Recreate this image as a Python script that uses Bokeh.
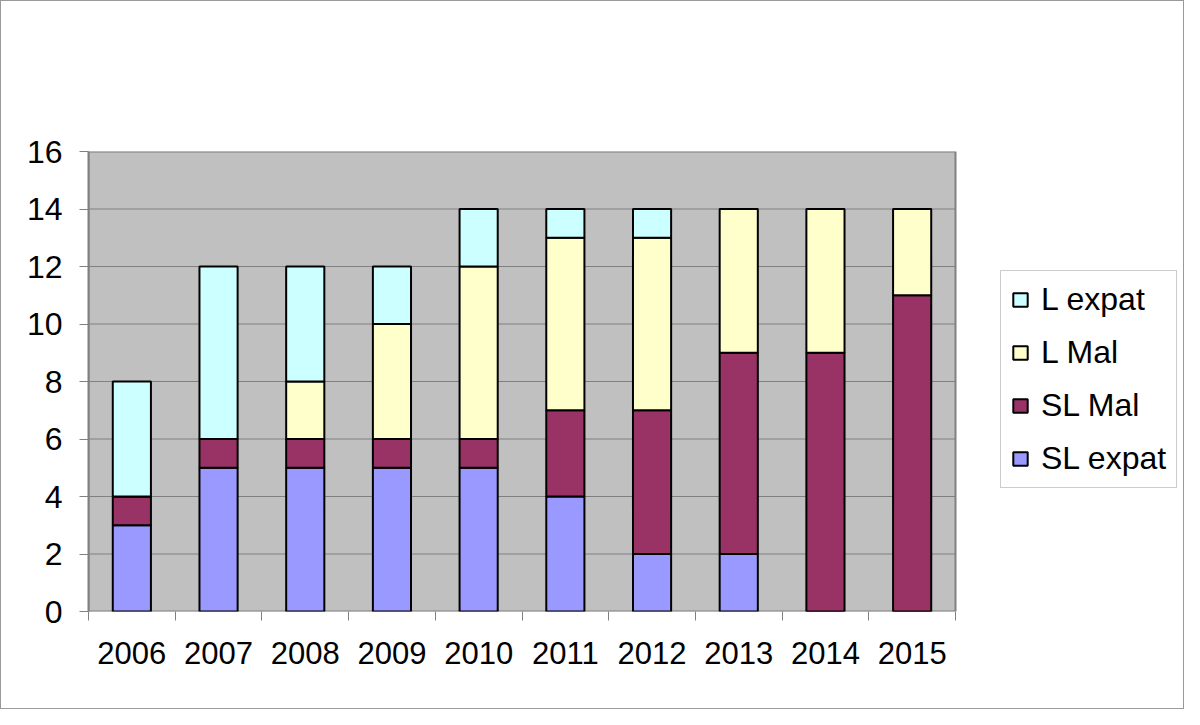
from bokeh.plotting import figure
from bokeh.models import ColumnDataSource, Range1d, FixedTicker, Legend, LegendItem
from bokeh.embed import file_html
from bokeh.resources import INLINE

years = ["2006", "2007", "2008", "2009", "2010", "2011", "2012", "2013", "2014", "2015"]
sl_expat = [3, 5, 5, 5, 5, 4, 2, 2, 0, 0]
sl_mal = [1, 1, 1, 1, 1, 3, 5, 7, 9, 11]
l_mal = [0, 0, 2, 4, 6, 6, 6, 5, 5, 3]
l_expat = [4, 6, 4, 2, 2, 1, 1, 0, 0, 0]

series_names = ["SL expat", "SL Mal", "L Mal", "L expat"]
series_keys = ["sl_expat", "sl_mal", "l_mal", "l_expat"]
series_colors = ["#9999FF", "#993366", "#FFFFCC", "#CCFFFF"]
y_ticks = [0, 2, 4, 6, 8, 10, 12, 14, 16]

n = len(years)
xpos = [i + 0.5 for i in range(n)]
source = ColumnDataSource(dict(x=xpos, sl_expat=sl_expat, sl_mal=sl_mal,
                               l_mal=l_mal, l_expat=l_expat))

FONT = "Liberation Sans"
FS = "31px"

W, H = 1184, 709
LEFT, RIGHT, TOP, BOTTOM = 87, 4, 150, 99
PLOT_W = 867          # pixel width of the grey plot area
FRAME_W = W - LEFT - RIGHT
x_end = n * FRAME_W / PLOT_W
y_max = max(y_ticks)

p = figure(width=W, height=H, output_backend="svg", toolbar_location=None,
           x_range=Range1d(0, x_end), y_range=Range1d(0, y_max),
           min_border_left=LEFT, min_border_right=RIGHT, min_border_top=TOP,
           min_border_bottom=BOTTOM)
p.styles = {"border": "1px solid #9a9a9a"}
p.background_fill_color = "white"
p.border_fill_color = "white"
p.outline_line_color = None
p.xgrid.grid_line_color = None
p.ygrid.grid_line_color = None

# grey plot area
p.quad(left=[0], right=[n], bottom=[0], top=[y_max], fill_color="#C0C0C0",
       line_color="#808080", line_width=2)
# horizontal gridlines
inner = [t for t in y_ticks if 0 < t < y_max]
p.segment(x0=[0] * len(inner), x1=[n] * len(inner), y0=inner, y1=inner,
          line_color="#808080", line_width=1)

renderers = p.vbar_stack(series_keys, x="x", width=0.44, color=series_colors,
                         line_color="black", line_width=2, source=source)

xt = FixedTicker(ticks=xpos, minor_ticks=list(range(n + 1)))
p.xaxis.ticker = xt
p.xaxis.major_label_overrides = {x: y for x, y in zip(xpos, years)}
p.xaxis.major_tick_out = 0
p.xaxis.major_tick_in = 0
p.xaxis.major_tick_line_color = None
p.xaxis.minor_tick_out = 9
p.xaxis.minor_tick_in = 0
p.xaxis.minor_tick_line_color = "#808080"
p.xaxis.axis_line_color = None
p.xaxis.major_label_standoff = 21

p.yaxis.ticker = FixedTicker(ticks=y_ticks)
p.yaxis.major_tick_out = 9
p.yaxis.major_tick_in = 0
p.yaxis.major_tick_line_color = "#808080"
p.yaxis.minor_tick_line_color = None
p.yaxis.axis_line_color = "#808080"
p.yaxis.axis_line_width = 2
p.yaxis.major_label_standoff = 17

for ax in (p.xaxis, p.yaxis):
    ax.major_label_text_font = FONT
    ax.major_label_text_font_size = FS
    ax.major_label_text_color = "black"
p.yaxis.major_label_text_font_size = "32px"

items = [LegendItem(label=nm, renderers=[r]) for nm, r in zip(series_names, renderers)]
items.reverse()
legend = Legend(items=items, location=(912, 123))
legend.label_text_font = FONT
legend.label_text_font_size = "32px"
legend.label_text_color = "black"
legend.glyph_width = 18
legend.glyph_height = 17
legend.label_standoff = 12
legend.spacing = 16
legend.padding = 10
legend.margin = 0
legend.border_line_color = "#9a9a9a"
legend.border_line_width = 1
legend.background_fill_color = "white"
legend.background_fill_alpha = 1
p.add_layout(legend, "center")

open("out.html", "w").write(file_html(p, INLINE))
